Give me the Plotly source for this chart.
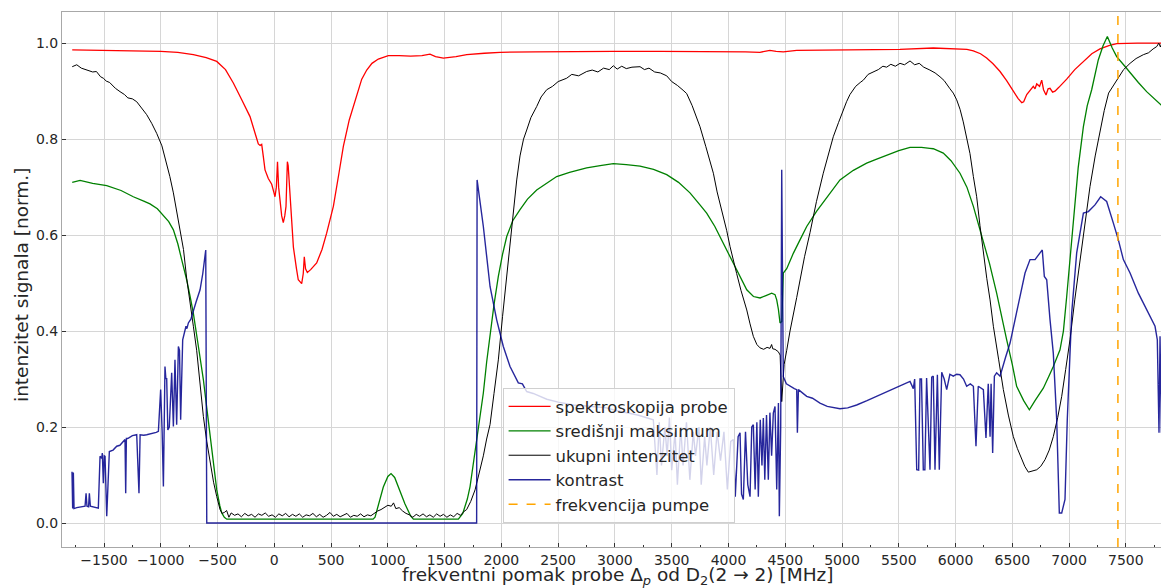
"""
Probe spectroscopy vs. central maximum / total intensity / contrast
"""
import plotly.graph_objects as go

# --- data ----------------------------------------------------------------
red_x = [-1780, -1500, -1200, -1000, -850, -713, -600, -507, -430, -361, -287, -214, -160, -141, -125,
         -111, -97, -82, -53, -38, -23, -5, 6, 18, 28, 38, 50, 65, 79, 92, 103, 110, 115, 122, 138, 150,
         168, 195, 211, 241, 255, 264, 275, 291, 320, 373, 420, 461, 520, 570, 608, 660, 711, 770, 814,
         860, 916, 960, 1004, 1100, 1200, 1300, 1371, 1420, 1489, 1600, 1695, 1850, 1988, 2300, 2600,
         2986, 3400, 3749, 4014, 4150, 4277, 4365, 4420, 4483, 4601, 5000, 5511, 5804, 5980, 6100, 6157,
         6220, 6274, 6330, 6392, 6450, 6509, 6550, 6583, 6600, 6627, 6650, 6685, 6700, 6715, 6740, 6759,
         6775, 6797, 6815, 6832, 6855, 6876, 6910, 6979, 7050, 7126, 7200, 7272, 7350, 7420, 7507, 7600,
         7700, 7830]
red_y = [0.986, 0.985, 0.983, 0.983, 0.981, 0.976, 0.970, 0.962, 0.945, 0.917, 0.882, 0.847, 0.805, 0.790,
         0.787, 0.789, 0.764, 0.736, 0.718, 0.712, 0.706, 0.690, 0.680, 0.700, 0.753, 0.700, 0.665, 0.640,
         0.626, 0.640, 0.660, 0.720, 0.753, 0.745, 0.680, 0.630, 0.575, 0.530, 0.507, 0.499, 0.520, 0.555,
         0.530, 0.522, 0.528, 0.542, 0.570, 0.604, 0.660, 0.730, 0.785, 0.840, 0.882, 0.925, 0.944, 0.958,
         0.967, 0.971, 0.974, 0.974, 0.973, 0.974, 0.977, 0.972, 0.969, 0.972, 0.976, 0.979, 0.981, 0.982,
         0.983, 0.983, 0.983, 0.983, 0.983, 0.982, 0.981, 0.985, 0.983, 0.982, 0.985, 0.986, 0.987, 0.990,
         0.989, 0.987, 0.984, 0.978, 0.969, 0.957, 0.941, 0.922, 0.900, 0.885, 0.876, 0.878, 0.893, 0.900,
         0.910, 0.905, 0.915, 0.910, 0.923, 0.903, 0.892, 0.905, 0.906, 0.898, 0.900, 0.908, 0.925, 0.945,
         0.962, 0.978, 0.988, 0.995, 0.999, 1.000, 1.000, 1.000, 1.000]

green_x = [-1780, -1711, -1600, -1476, -1350, -1242, -1150, -1095, -1030, -978, -930, -889, -850, -816,
           -772, -740, -713, -670, -625, -595, -566, -535, -507, -480, -463, -440, -419, -300, 0, 300, 600,
           870, 887, 920, 960, 1000, 1028, 1060, 1100, 1150, 1200, 1225, 1400, 1621, 1660, 1700, 1724,
           1750, 1782, 1810, 1841, 1870, 1900, 1935, 1973, 2010, 2047, 2100, 2164, 2230, 2311, 2400, 2487,
           2600, 2751, 2870, 2986, 3100, 3221, 3340, 3456, 3560, 3661, 3749, 3808, 3880, 3955, 4043, 4100,
           4161, 4220, 4278, 4330, 4381, 4410, 4425, 4440, 4454, 4470, 4483, 4513, 4571, 4630, 4689, 4777,
           4870, 4982, 5100, 5217, 5300, 5393, 5500, 5599, 5700, 5774, 5804, 5892, 5960, 6039, 6100, 6157,
           6200, 6245, 6300, 6362, 6400, 6450, 6500, 6538, 6600, 6650, 6700, 6773, 6820, 6861, 6920, 6950,
           6979, 7010, 7037, 7080, 7126, 7160, 7199, 7230, 7257, 7300, 7337, 7380, 7419, 7480, 7537, 7610,
           7683, 7760, 7830]
green_y = [0.710, 0.714, 0.708, 0.703, 0.693, 0.680, 0.671, 0.665, 0.655, 0.642, 0.628, 0.611, 0.582, 0.549,
           0.507, 0.470, 0.437, 0.370, 0.299, 0.240, 0.180, 0.120, 0.069, 0.036, 0.021, 0.012, 0.008, 0.008,
           0.008, 0.008, 0.008, 0.008, 0.012, 0.040, 0.075, 0.097, 0.103, 0.095, 0.070, 0.040, 0.015, 0.008,
           0.008, 0.008, 0.020, 0.050, 0.076, 0.120, 0.180, 0.225, 0.271, 0.335, 0.396, 0.455, 0.514, 0.560,
           0.597, 0.630, 0.653, 0.675, 0.694, 0.709, 0.722, 0.731, 0.740, 0.745, 0.749, 0.747, 0.744, 0.737,
           0.726, 0.710, 0.688, 0.663, 0.646, 0.618, 0.583, 0.542, 0.512, 0.486, 0.472, 0.469, 0.474, 0.479,
           0.476, 0.465, 0.445, 0.417, 0.420, 0.521, 0.530, 0.562, 0.590, 0.618, 0.650, 0.680, 0.715, 0.735,
           0.750, 0.758, 0.767, 0.776, 0.783, 0.783, 0.781, 0.780, 0.771, 0.755, 0.729, 0.700, 0.660, 0.625,
           0.590, 0.540, 0.479, 0.435, 0.382, 0.330, 0.285, 0.255, 0.236, 0.255, 0.281, 0.305, 0.326, 0.361,
           0.400, 0.472, 0.560, 0.632, 0.740, 0.826, 0.870, 0.903, 0.935, 0.965, 0.995, 1.014, 0.990, 0.972,
           0.955, 0.938, 0.918, 0.899, 0.882, 0.867]

black_x = [-1780, -1740, -1700, -1650, -1600, -1567, -1530, -1506, -1480, -1450, -1400, -1359, -1320,
           -1290, -1250, -1212, -1170, -1124, -1080, -1036, -990, -948, -920, -889, -860, -831, -800, -772,
           -740, -713, -684, -655, -625, -595, -566, -535, -507, -478, -460, -440, -420, -400, -380, -350,
           -320, -290, -260, -230, -200, -170, -140, -110, -80, -50, -20, 10, 40, 70, 100, 130, 160, 190,
           220, 250, 280, 310, 340, 370, 400, 430, 460, 490, 520, 550, 580, 610, 640, 670, 700, 730, 760,
           790, 820, 850, 880, 910, 940, 970, 1000, 1030, 1050, 1070, 1100, 1130, 1160, 1190, 1220, 1250,
           1280, 1310, 1340, 1370, 1400, 1430, 1460, 1490, 1520, 1550, 1580, 1610, 1640, 1670, 1694, 1730,
           1768, 1800, 1841, 1870, 1900, 1935, 1973, 2010, 2047, 2076, 2105, 2135, 2164, 2195, 2223, 2260,
           2311, 2350, 2399, 2450, 2500, 2575, 2620, 2680, 2751, 2800, 2850, 2900, 2950, 2986, 3020, 3060,
           3100, 3150, 3221, 3260, 3300, 3350, 3400, 3456, 3500, 3550, 3600, 3632, 3680, 3720, 3749, 3800,
           3836, 3867, 3900, 3955, 3984, 4014, 4043, 4072, 4110, 4161, 4190, 4219, 4250, 4278, 4310, 4340,
           4366, 4380, 4390, 4410, 4439, 4455, 4469, 4478, 4490, 4513, 4542, 4601, 4630, 4670, 4718, 4775,
           4835, 4880, 4923, 4970, 5011, 5040, 5070, 5120, 5160, 5188, 5230, 5276, 5320, 5360, 5393, 5430,
           5470, 5511, 5550, 5599, 5640, 5680, 5720, 5774, 5820, 5863, 5900, 5951, 5980, 6010, 6040, 6068,
           6100, 6127, 6157, 6186, 6215, 6245, 6275, 6304, 6333, 6380, 6421, 6465, 6509, 6545, 6583, 6610,
           6641, 6680, 6715, 6750, 6788, 6825, 6861, 6900, 6935, 6970, 7008, 7050, 7096, 7140, 7184, 7230,
           7272, 7310, 7348, 7390, 7436, 7480, 7537, 7590, 7654, 7700, 7740, 7772, 7790, 7805, 7815, 7830]
black_y = [0.951, 0.955, 0.948, 0.944, 0.940, 0.941, 0.930, 0.927, 0.921, 0.918, 0.906, 0.899, 0.893, 0.886,
           0.884, 0.878, 0.866, 0.851, 0.833, 0.812, 0.786, 0.750, 0.722, 0.688, 0.650, 0.618, 0.570, 0.510,
           0.450, 0.410, 0.360, 0.290, 0.222, 0.170, 0.125, 0.085, 0.055, 0.028, 0.020, 0.022, 0.026, 0.012,
           0.021, 0.016, 0.019, 0.013, 0.020, 0.015, 0.018, 0.012, 0.019, 0.016, 0.021, 0.014, 0.017, 0.012,
           0.019, 0.015, 0.020, 0.013, 0.018, 0.014, 0.019, 0.012, 0.017, 0.015, 0.020, 0.013, 0.018, 0.012,
           0.016, 0.022, 0.014, 0.018, 0.013, 0.017, 0.020, 0.012, 0.016, 0.014, 0.019, 0.013, 0.017, 0.015,
           0.020, 0.025, 0.028, 0.033, 0.037, 0.035, 0.042, 0.030, 0.032, 0.025, 0.020, 0.017, 0.012, 0.018,
           0.014, 0.019, 0.013, 0.017, 0.012, 0.019, 0.014, 0.018, 0.012, 0.017, 0.013, 0.020, 0.016, 0.024,
           0.028, 0.045, 0.069, 0.100, 0.140, 0.175, 0.205, 0.270, 0.340, 0.430, 0.514, 0.590, 0.653, 0.715,
           0.765, 0.800, 0.819, 0.845, 0.868, 0.888, 0.903, 0.910, 0.920, 0.927, 0.935, 0.932, 0.941, 0.944,
           0.940, 0.948, 0.945, 0.953, 0.946, 0.952, 0.947, 0.950, 0.951, 0.945, 0.948, 0.940, 0.938, 0.932,
           0.920, 0.912, 0.902, 0.895, 0.870, 0.845, 0.826, 0.785, 0.757, 0.729, 0.690, 0.639, 0.610, 0.576,
           0.545, 0.520, 0.485, 0.444, 0.415, 0.389, 0.372, 0.365, 0.362, 0.366, 0.364, 0.372, 0.363, 0.362,
           0.357, 0.350, 0.253, 0.300, 0.330, 0.360, 0.400, 0.470, 0.507, 0.555, 0.605, 0.670, 0.729, 0.770,
           0.805, 0.835, 0.861, 0.878, 0.893, 0.910, 0.918, 0.923, 0.935, 0.940, 0.945, 0.952, 0.950, 0.956,
           0.952, 0.958, 0.955, 0.963, 0.955, 0.958, 0.950, 0.944, 0.938, 0.930, 0.922, 0.905, 0.896, 0.882,
           0.862, 0.836, 0.800, 0.770, 0.722, 0.680, 0.620, 0.563, 0.510, 0.465, 0.410, 0.340, 0.278, 0.225,
           0.180, 0.155, 0.132, 0.118, 0.106, 0.108, 0.111, 0.118, 0.132, 0.152, 0.180, 0.220, 0.264, 0.320,
           0.382, 0.465, 0.549, 0.630, 0.701, 0.765, 0.819, 0.860, 0.896, 0.912, 0.927, 0.945, 0.958, 0.968,
           0.976, 0.980, 0.988, 0.993, 1.000, 0.992, 1.000, 0.997]

blue_x = [-1782, -1776, -1770, -1764, -1740, -1700, -1667, -1658, -1650, -1636, -1629, -1620, -1600, -1550,
          -1535, -1520, -1515, -1506, -1498, -1491, -1476, -1453, -1420, -1388, -1360, -1344, -1315, -1309,
          -1303, -1291, -1250, -1212, -1192, -1182, -1150, -1124, -1080, -1040, -1021, -1001, -988, -977,
          -963, -955, -948, -938, -925, -904, -889, -880, -875, -860, -845, -835, -825, -807, -790, -778,
          -770, -757, -735, -713, -690, -654, -630, -604, -595, 1782, 1786, 1841, 1900, 1958, 2017, 2076,
          2110, 2149, 2185, 2223, 2280, 2340, 2400, 2500, 2634, 2750, 2928, 3000, 3104, 3200, 3338, 3370,
          3390, 3410, 3440, 3460, 3480, 3500, 3530, 3550, 3580, 3600, 3630, 3660, 3690, 3710, 3740, 3760,
          3790, 3810, 3840, 3870, 3900, 3930, 3960, 3990, 4020, 4043, 4060, 4085, 4102, 4115, 4131, 4150,
          4170, 4190, 4205, 4219, 4235, 4250, 4263, 4280, 4295, 4307, 4320, 4335, 4351, 4365, 4380, 4395,
          4410, 4425, 4440, 4448, 4460, 4469, 4478, 4483, 4510, 4542, 4580, 4601, 4607, 4616, 4650, 4689,
          4740, 4806, 4870, 4923, 4982, 5050, 5129, 5220, 5305, 5400, 5511, 5599, 5628, 5640, 5658, 5675,
          5687, 5700, 5716, 5730, 5745, 5775, 5790, 5804, 5819, 5840, 5857, 5878, 5900, 5922, 5950, 5980,
          6010, 6039, 6070, 6098, 6130, 6157, 6180, 6200, 6245, 6268, 6288, 6304, 6313, 6327, 6342, 6362,
          6392, 6406, 6440, 6480, 6538, 6575, 6612, 6656, 6700, 6744, 6764, 6782, 6803, 6832, 6861, 6891,
          6914, 6935, 6949, 6964, 6984, 7023, 7067, 7126, 7170, 7228, 7278, 7331, 7390, 7434, 7478, 7537,
          7610, 7683, 7757, 7777, 7792, 7801, 7813, 7821, 7836]
blue_y = [0.107, 0.030, 0.105, 0.030, 0.032, 0.034, 0.035, 0.062, 0.035, 0.034, 0.062, 0.035, 0.034, 0.031,
          0.139, 0.135, 0.146, 0.083, 0.140, 0.139, 0.014, 0.149, 0.152, 0.160, 0.162, 0.167, 0.174, 0.062,
          0.176, 0.176, 0.182, 0.184, 0.062, 0.184, 0.183, 0.184, 0.186, 0.189, 0.191, 0.278, 0.190, 0.076,
          0.326, 0.300, 0.302, 0.194, 0.200, 0.313, 0.201, 0.320, 0.340, 0.205, 0.368, 0.360, 0.215, 0.382,
          0.400, 0.410, 0.405, 0.417, 0.425, 0.444, 0.460, 0.486, 0.520, 0.569, 0.000, 0.000, 0.715, 0.618,
          0.493, 0.424, 0.368, 0.326, 0.310, 0.292, 0.290, 0.274, 0.270, 0.264, 0.258, 0.252, 0.246, 0.244,
          0.240, 0.235, 0.229, 0.225, 0.215, 0.100, 0.210, 0.120, 0.200, 0.140, 0.220, 0.110, 0.190, 0.080,
          0.200, 0.120, 0.210, 0.090, 0.190, 0.140, 0.200, 0.080, 0.180, 0.120, 0.200, 0.100, 0.190, 0.130,
          0.190, 0.070, 0.170, 0.174, 0.055, 0.180, 0.188, 0.060, 0.049, 0.190, 0.080, 0.055, 0.200, 0.205,
          0.070, 0.210, 0.055, 0.215, 0.120, 0.219, 0.090, 0.225, 0.090, 0.230, 0.140, 0.229, 0.243, 0.070,
          0.250, 0.014, 0.200, 0.736, 0.450, 0.305, 0.290, 0.285, 0.280, 0.278, 0.188, 0.278, 0.272, 0.264,
          0.260, 0.250, 0.243, 0.240, 0.238, 0.240, 0.246, 0.255, 0.264, 0.274, 0.285, 0.295, 0.280, 0.300,
          0.111, 0.110, 0.300, 0.300, 0.111, 0.111, 0.302, 0.111, 0.304, 0.306, 0.111, 0.309, 0.111, 0.314,
          0.300, 0.278, 0.310, 0.306, 0.310, 0.309, 0.300, 0.285, 0.290, 0.285, 0.160, 0.285, 0.278, 0.177,
          0.290, 0.180, 0.290, 0.146, 0.306, 0.313, 0.306, 0.319, 0.345, 0.375, 0.438, 0.480, 0.521, 0.549,
          0.549, 0.563, 0.569, 0.514, 0.507, 0.424, 0.354, 0.215, 0.021, 0.021, 0.035, 0.049, 0.215, 0.438,
          0.563, 0.646, 0.649, 0.663, 0.680, 0.670, 0.625, 0.590, 0.549, 0.521, 0.479, 0.444, 0.410, 0.382,
          0.188, 0.389, 0.188, 0.382, 0.188]

pump_freq = 7430

series_names = ["spektroskopija probe", "središnji maksimum", "ukupni intenzitet", "kontrast",
                "frekvencija pumpe"]
x_title = "frekventni pomak probe Δ<sub><i>p</i></sub> od D<sub>2</sub>(2 → 2) [MHz]"
y_title = "intenzitet signala [norm.]"


def build_figure() -> go.Figure:
    fig = go.Figure()

    fig.add_trace(go.Scatter(x=red_x, y=red_y, mode="lines", name=series_names[0],
                             line=dict(color="red", width=1.3)))
    fig.add_trace(go.Scatter(x=green_x, y=green_y, mode="lines", name=series_names[1],
                             line=dict(color="green", width=1.3)))
    fig.add_trace(go.Scatter(x=black_x, y=black_y, mode="lines", name=series_names[2],
                             line=dict(color="black", width=1)))
    fig.add_trace(go.Scatter(x=blue_x, y=blue_y, mode="lines", name=series_names[3],
                             line=dict(color="rgba(0,0,139,0.85)", width=1.4)))
    # vertical pump frequency marker
    fig.add_trace(go.Scatter(x=[pump_freq, pump_freq], y=[-0.05, 1.065], mode="lines",
                             name=series_names[4],
                             line=dict(color="orange", width=1.5, dash="dash")))

    axis_common = dict(
        showgrid=True,
        gridcolor="#d6d6d6",
        gridwidth=1,
        showline=True,
        linecolor="#a8a8a8",
        linewidth=1,
        mirror=True,
        ticks="inside",
        ticklen=4,
        tickcolor="#333333",
        tickfont=dict(size=14, color="#262626"),
        zeroline=False,
        automargin=False,
    )

    # the page body adds 8px around the figure, so the figure is 8px smaller
    fig.update_layout(
        width=1161,
        height=580,
        margin=dict(l=54, r=0, t=4, b=41),
        plot_bgcolor="white",
        paper_bgcolor="white",
        font=dict(family="DejaVu Sans", color="#262626"),
        xaxis=dict(
            range=[-1870, 7880],
            tick0=0,
            dtick=500,
            ticklabelstandoff=0,
            minor=dict(dtick=250, ticks="inside", ticklen=2.5, tickcolor="#333333", showgrid=False),
            **axis_common,
        ),
        yaxis=dict(
            range=[-0.05, 1.065],
            tick0=0,
            dtick=0.2,
            tickformat=".1f",
            **axis_common,
        ),
        legend=dict(
            x=0.398,
            y=0.297,
            xanchor="left",
            yanchor="top",
            itemwidth=42,
            bgcolor="rgba(255,255,255,0.8)",
            bordercolor="#d0d0d0",
            borderwidth=1,
            font=dict(size=16.5, color="#262626"),
        ),
        showlegend=True,
    )

    # axis titles as annotations so they sit where the reference puts them
    fig.add_annotation(text=x_title, xref="paper", yref="paper", x=0.502, y=-0.055,
                       xanchor="center", yanchor="middle", showarrow=False,
                       font=dict(size=18.5, color="#262626"))
    fig.add_annotation(text=y_title, xref="paper", yref="paper", x=-0.036, y=0.49,
                       xanchor="center", yanchor="middle", textangle=-90, showarrow=False,
                       font=dict(size=18.5, color="#262626"))

    return fig


fig = build_figure()
fig.write_html("out.html")
